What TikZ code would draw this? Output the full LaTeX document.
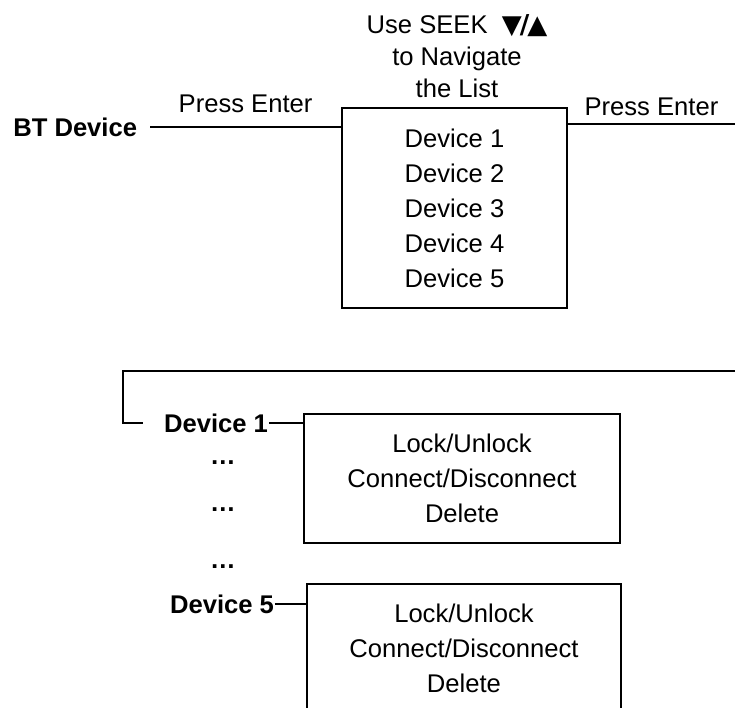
\documentclass[tikz,border=0pt]{standalone}
\usepackage{fontspec}
\setmainfont{Liberation Sans}
\newfontfamily\symfont{DejaVu Sans}

\begin{document}
\begin{tikzpicture}[x=0.5pt,y=-0.5pt,line width=0.9pt,
  main text/.style={font=\fontsize{12.8}{16}\selectfont,inner sep=0pt},
  dev name/.style={font=\fontsize{12.8}{16}\selectfont\bfseries,inner sep=0pt},
  list box/.style={draw,align=center,font=\fontsize{12.8}{17.5}\selectfont,inner sep=0pt}]
  \useasboundingbox (0,0) rectangle (735,708);
  \clip (0,0) rectangle (735,708);
  \node[main text,align=center,anchor=base] (seek) at (457,97)
    {Use SEEK\ \ {\symfont\fontsize{13}{16}\selectfont ▼\kern-1pt\bfseries/\kern-1pt▲}\\to Navigate\\the List};
  \node[list box,minimum width=112.5pt,minimum height=100pt] (list) at (454.5,208)
    {Device 1\\Device 2\\Device 3\\Device 4\\Device 5};
  \node[dev name,inner xsep=6pt,anchor=east] (bt) at (150,127) {BT Device};
  \coordinate (out)  at (735,124);
  \coordinate (back) at (735,371);
  \coordinate (turn) at (123,371);
  \node[dev name] (dev1)  at (216,423) {Device 1};
  \node[dev name] (dots1) at (223,463) {…};
  \node[dev name] (dots2) at (223,510) {…};
  \node[dev name] (dots3) at (223,567) {…};
  \node[dev name] (dev5)  at (222,604) {Device 5};
  \node[list box,minimum width=158pt,minimum height=64.5pt] (act1) at (462,478.5)
    {Lock/Unlock\\Connect/Disconnect\\Delete};
  \node[list box,minimum width=157pt,minimum height=64.5pt] (act5) at (464,648.5)
    {Lock/Unlock\\Connect/Disconnect\\Delete};
  \draw (bt.east) -- node[main text,above=6.5pt] {Press Enter} (bt.east -| list.west);
  \draw (list.east |- out) -- node[main text,above=3.5pt] {Press Enter} (out);
  \draw (back) -- (turn) |- ([xshift=-10pt]dev1.west);
  \draw (dev1.east) -- (dev1.east -| act1.west);
  \draw (dev5.east) -- (dev5.east -| act5.west);
\end{tikzpicture}
\end{document}
